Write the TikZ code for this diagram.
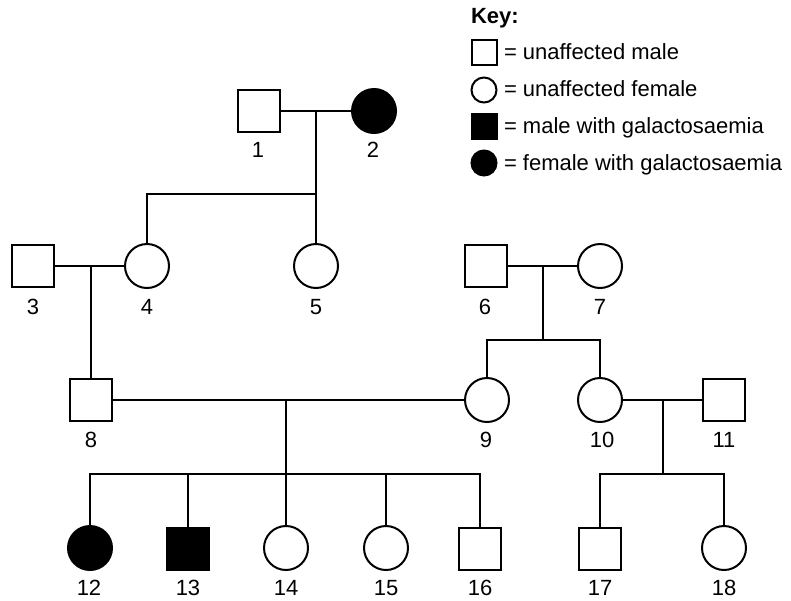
\documentclass[tikz,border=0pt]{standalone}
\usepackage{fontspec}
\setmainfont{Liberation Sans}
\begin{document}
\begin{tikzpicture}[-,x=1pt,y=-1pt,line width=2pt,
	male/.style={rectangle,draw,minimum size=42pt},
	female/.style={circle,draw,minimum size=44pt},
	ill/.style={fill=black},
	keysym/.style={minimum size=25pt}]
	\tikzstyle{every node}=[font=\fontsize{22}{25}\selectfont,inner sep=0pt]
	\useasboundingbox (0,0) rectangle (791,600);
	% people
	\draw
		(259,111) node(p1) [male] {}
		(374,111) node(p2) [female,ill] {}
		(33,266)  node(p3) [male] {}
		(147,266) node(p4) [female] {}
		(316,266) node(p5) [female] {}
		(486,266) node(p6) [male] {}
		(600,266) node(p7) [female] {}
		(91,400)  node(p8) [male] {}
		(487,400) node(p9) [female] {}
		(600,400) node(p10) [female] {}
		(724,400) node(p11) [male] {}
		(90,548)  node(p12) [female,ill] {}
		(188,549) node(p13) [male,ill] {}
		(286,548) node(p14) [female] {}
		(386,548) node(p15) [female] {}
		(480,549) node(p16) [male] {}
		(600,549) node(p17) [male] {}
		(724,548) node(p18) [female] {};
	% numbers
	\draw
		(258,150) node(n1) {1}
		(373,150) node(n2) {2}
		(33,307)  node(n3) {3}
		(147,307) node(n4) {4}
		(316,307) node(n5) {5}
		(485,307) node(n6) {6}
		(600,307) node(n7) {7}
		(91,440)  node(n8) {8}
		(486,440) node(n9) {9}
		(602,440) node(n10) {10}
		(724,440) node(n11) {11}
		(89,588)  node(n12) {12}
		(188,588) node(n13) {13}
		(286,588) node(n14) {14}
		(386,588) node(n15) {15}
		(480,588) node(n16) {16}
		(600,588) node(n17) {17}
		(724,588) node(n18) {18};

	\coordinate (c12) at (316,111);
	\coordinate (s12) at (316,194);
	\coordinate (c34) at (91,266);
	\coordinate (c67) at (543,266);
	\coordinate (s67) at (543,340);
	\coordinate (c89) at (286,400);
	\coordinate (s89) at (286,474);
	\coordinate (c1011) at (663,400);
	\coordinate (s1011) at (663,474);

	\draw (p1) -- (p2);
	\draw (c12) -- (p5);
	\draw (s12) -| (p4);
	\draw (p3) -- (p4);
	\draw (c34) -- (p8);
	\draw (p6) -- (p7);
	\draw (c67) -- (s67);
	\draw (p9) |- (s67) -| (p10);
	\draw (p8) -- (p9);
	\draw (c89) -- (p14);
	\draw (p12) |- (s89) -| (p16);
	\draw (s89) -| (p13);
	\draw (s89) -| (p15);
	\draw (p10) -- (p11);
	\draw (c1011) -- (s1011);
	\draw (p17) |- (s1011) -| (p18);

	% key
	\draw
		(470,23)  node(key) [anchor=base west] {\textbf{Key:}}
		(484,52)  node(k1) [male,keysym] {}
		(484,90)  node(k2) [female,keysym] {}
		(484,126) node(k3) [male,keysym,ill] {}
		(484,163) node(k4) [female,keysym,ill] {}
		(503,59)  node(t1) [anchor=base west] {= unaffected male}
		(503,96)  node(t2) [anchor=base west] {= unaffected female}
		(503,133) node(t3) [anchor=base west] {= male with galactosaemia}
		(503,170) node(t4) [anchor=base west] {= female with galactosaemia};
\end{tikzpicture}
\end{document}
